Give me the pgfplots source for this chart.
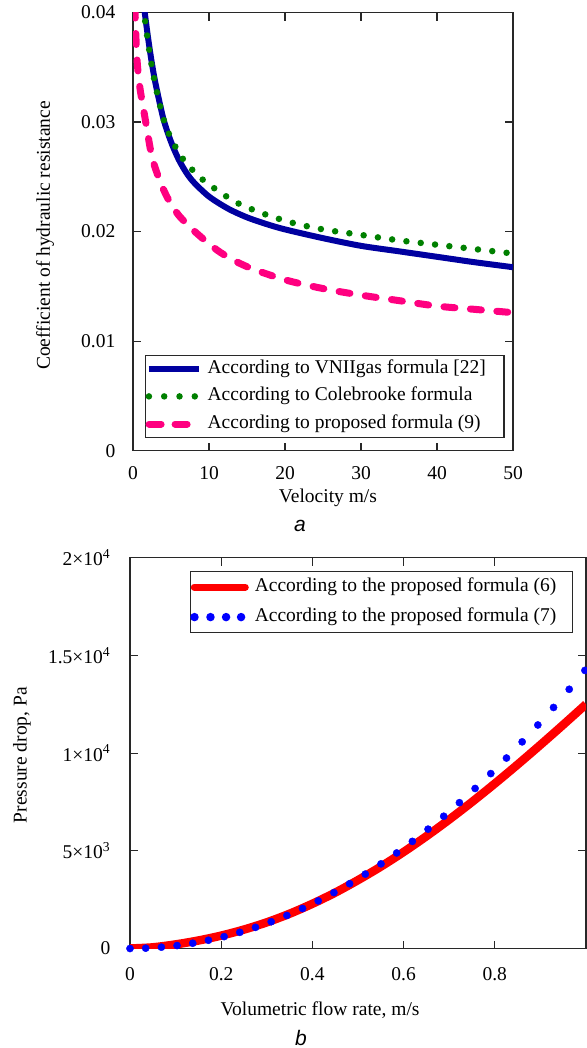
\documentclass[border=0pt]{standalone}
\usepackage{fontspec}
\setmainfont{Liberation Serif}
\newfontfamily\sublabel{Liberation Sans}
\usepackage{pgfplots}
\pgfplotsset{compat=1.18}

\definecolor{vnii}{RGB}{0,0,160}
\definecolor{cole}{RGB}{0,128,0}
\definecolor{prop}{RGB}{255,0,128}
\definecolor{redline}{RGB}{255,0,0}
\definecolor{bluedot}{RGB}{0,0,255}
\definecolor{frame}{RGB}{40,40,40}

\pgfplotsset{
  panel/.style={
    scale only axis,
    axis line style={frame, line width=1.2bp},
    every tick/.style={frame, line width=1.2bp},
    tick align=inside,
    major tick length=8bp,
    /pgf/number format/assume math mode=true,
    scaled y ticks=false,
    legend cell align=left,
  },
}

\begin{document}
\fontsize{19.5bp}{23bp}\selectfont
\begin{tikzpicture}
\useasboundingbox (0,0) rectangle (587bp,-1048bp);

% (a) coefficient of hydraulic resistance
\begin{axis}[panel,
    at={(133bp,-12.5bp)}, anchor=north west,
    width=380bp, height=438.2bp,
    xmin=0, xmax=50, ymin=0, ymax=0.04,
    xtick={0,10,...,50},
    ytick={0,0.01,0.02,0.03,0.04},
    yticklabels={0,0.01,0.02,0.03,0.04},
    xticklabel style={yshift=-9bp},
    yticklabel style={xshift=-11bp},
    xlabel={Velocity m/s},
    ylabel={Coefficient of hydraulic resistance},
    xlabel style={at={(axis description cs:0.513,-0.108)}, anchor=center},
    ylabel style={at={(axis description cs:-0.2316,0.491)}, anchor=center},
    legend style={at={(axis description cs:0.0316,0.029)}, anchor=south west,
      draw=frame, line width=1.2bp, inner xsep=0pt, inner ysep=4.8bp,
      row sep=10.7bp,
      nodes={inner sep=0pt, text height=13bp, text depth=4bp, anchor=west},
      /tikz/every odd column/.append style={column sep=6bp}},
  ]
  \addplot[vnii, line width=6bp, smooth,
    legend image code/.code={\draw[vnii, line width=6bp] (3bp,0) -- (53bp,0);}]
    coordinates {
    (1.45,0.0405) (2,0.0376) (2.5,0.0353) (3,0.0334) (4,0.0303) (5,0.0282)
    (6,0.0266) (7,0.0254) (8,0.0245) (10,0.0232) (12.5,0.0221) (15,0.0213)
    (17.5,0.0207) (20,0.0202) (25,0.0194) (30,0.0187) (35,0.0182)
    (40,0.0177) (45,0.0172) (50,0.01675)};
  \addlegendentry{According to VNIIgas formula [22]\kern18bp}
  \addplot[cole, line width=6.5bp, line cap=round, dash pattern=on 0pt off 14.4bp, smooth,
    legend image code/.code={\draw[cole, line width=6.5bp, line cap=round,
      dash pattern=on 0pt off 15.3bp] (3.3bp,0) -- (52bp,0);}]
    coordinates {
    (1.3,0.0405) (1.6,0.0392) (2,0.0372) (2.5,0.0350) (3,0.0332) (4,0.0303)
    (5,0.0285) (6.5,0.0267) (8,0.0255) (9.8,0.0244) (13.5,0.0227)
    (17.3,0.0216) (21,0.0208) (25,0.0202) (30,0.0197) (35,0.0192)
    (40,0.0188) (45,0.0184) (50,0.0180)};
  \addlegendentry{According to Colebrooke formula}
  \addplot[prop, line width=7bp, line cap=round, dash pattern=on 11bp off 15.5bp, smooth,
    legend image code/.code={\draw[prop, line width=7bp, line cap=round,
      dash pattern=on 12bp off 14bp] (3.5bp,0) -- (50bp,0);}]
    coordinates {
    (0.25,0.0405) (0.4,0.0375) (0.55,0.0355) (0.75,0.0340) (1.0,0.0327)
    (1.4,0.0311) (1.8,0.0295) (2.5,0.0268) (3.5,0.0247) (4.6,0.0230)
    (6,0.0215) (8.3,0.0199) (11.5,0.0181) (15,0.0168) (20,0.0156)
    (25,0.0148) (30,0.0142) (35,0.0137) (40,0.0132) (45,0.0129) (50,0.0126)};
  \addlegendentry{According to proposed formula (9)}
\end{axis}

% (b) pressure drop
\begin{axis}[panel,
    at={(130bp,-557.7bp)}, anchor=north west,
    width=456bp, height=390.8bp,
    xmin=0, xmax=1, ymin=0, ymax=20000,
    xtick={0,0.2,0.4,0.6,0.8},
    xticklabels={0,0.2,0.4,0.6,0.8},
    ytick={0,5000,10000,15000,20000},
    yticklabels={0,5×10\textsuperscript{3},1×10\textsuperscript{4},1.5×10\textsuperscript{4},2×10\textsuperscript{4}},
    xticklabel style={yshift=-12bp},
    yticklabel style={xshift=-13bp},
    xlabel={Volumetric flow rate, m/s},
    ylabel={Pressure drop, Pa},
    xlabel style={at={(axis description cs:0.4167,-0.157)}, anchor=center},
    ylabel style={at={(axis description cs:-0.2368,0.495)}, anchor=center},
    legend style={at={(axis description cs:0.9715,0.966)}, anchor=north east,
      draw=frame, line width=1.2bp, inner xsep=0pt, inner ysep=7bp,
      row sep=13bp,
      nodes={inner sep=0pt, text height=13bp, text depth=4bp, anchor=west},
      /tikz/every odd column/.append style={column sep=6bp}},
  ]
  \addplot[redline, line width=8.5bp, smooth,
    legend image code/.code={\draw[redline, line width=7bp, line cap=round] (3.5bp,0) -- (54.5bp,0);}]
    coordinates {
    (0,0) (0.05,60) (0.1,210) (0.15,410) (0.2,660) (0.25,970) (0.3,1340)
    (0.35,1780) (0.4,2290) (0.45,2860) (0.5,3500) (0.55,4190) (0.6,4940)
    (0.65,5745) (0.7,6600) (0.75,7500) (0.8,8440) (0.85,9415) (0.9,10420)
    (0.95,11450) (1.0,12500)};
  \addlegendentry{According to the proposed formula (6)\kern16bp}
  \addplot[only marks, mark=*, mark size=3.6bp, bluedot, mark options={draw=none, fill=bluedot},
    legend image code/.code={\foreach \x in {3.7,19.7,35.3,50.3}{\fill[bluedot] (\x bp,0) circle (3.6bp);}}]
    coordinates {
    (0,0) (0.0344,17) (0.0688,68) (0.1032,152) (0.1376,271) (0.172,423)
    (0.2064,609) (0.2408,829) (0.2752,1083) (0.3096,1371) (0.344,1692)
    (0.3784,2048) (0.4128,2437) (0.4472,2860) (0.4816,3317) (0.516,3808)
    (0.5504,4332) (0.5848,4890) (0.6192,5483) (0.6536,6109) (0.688,6769)
    (0.7224,7463) (0.7568,8190) (0.7912,8952) (0.8256,9747) (0.86,10576)
    (0.8944,11439) (0.9288,12336) (0.9632,13267) (0.9976,14232)};
  \addlegendentry{According to the proposed formula (7)}
\end{axis}

\node[font=\sublabel\itshape\fontsize{21bp}{24bp}\selectfont, inner sep=0pt, anchor=base] at (300bp,-531bp) {a};
\node[font=\sublabel\itshape\fontsize{21bp}{24bp}\selectfont, inner sep=0pt, anchor=base] at (301bp,-1045bp) {b};
\end{tikzpicture}
\end{document}
